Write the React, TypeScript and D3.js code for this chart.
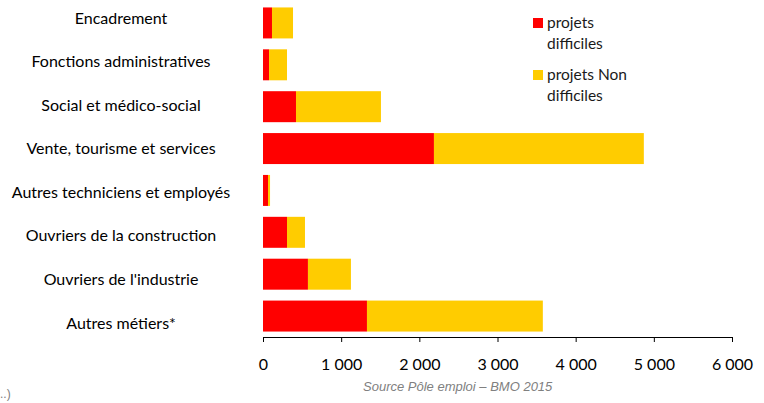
import { useEffect, useRef } from "react";
import * as d3 from "d3";

const WIDTH = 764;
const HEIGHT = 403;
const MARGIN = { top: 2, right: 32, bottom: 66, left: 263 };

const categories = [
    "Encadrement",
    "Fonctions administratives",
    "Social et médico-social",
    "Vente, tourisme et services",
    "Autres techniciens et employés",
    "Ouvriers de la construction",
    "Ouvriers de l'industrie",
    "Autres métiers*",
];
const difficiles = [115, 77, 422, 2187, 64, 307, 575, 1330];
const nonDifficiles = [269, 230, 1087, 2685, 26, 230, 550, 2250];
const xTicks = [0, 1000, 2000, 3000, 4000, 5000, 6000];
const seriesNames = ["projets difficiles", "projets Non difficiles"];
const legendLines = [["projets", "difficiles"], ["projets Non", "difficiles"]];

const COLORS = ["#ff0000", "#ffcc00"];
const LABEL_FONT = "Lato, 'Open Sans', sans-serif";

export default function App() {
    const svgRef = useRef<SVGSVGElement | null>(null);

    useEffect(() => {
        const svg = d3.select(svgRef.current);
        svg.selectAll("*").remove();

        const boundsWidth = WIDTH - MARGIN.left - MARGIN.right;
        const boundsHeight = HEIGHT - MARGIN.top - MARGIN.bottom;

        const xScale = d3.scaleLinear().domain([0, 6000]).range([0, boundsWidth]);
        const yScale = d3
            .scaleBand<string>()
            .domain(categories)
            .range([0, boundsHeight])
            .paddingInner(0.26)
            .paddingOuter(0.13);
        // the category labels sit on their own, slightly wider grid
        const labelScale = d3.scalePoint<string>().domain(categories).range([18, 323]);

        const rows = categories.map((name, i) => ({
            name,
            difficiles: difficiles[i],
            nonDifficiles: nonDifficiles[i],
        }));
        const stacked = d3.stack<any>().keys(["difficiles", "nonDifficiles"])(rows);

        const g = svg
            .append("g")
            .attr("transform", `translate(${MARGIN.left},${MARGIN.top})`);

        g.selectAll("g.series")
            .data(stacked)
            .join("g")
            .attr("class", "series")
            .attr("fill", (_, i) => COLORS[i])
            .selectAll("rect")
            .data((d) => d)
            .join("rect")
            .attr("x", (d) => xScale(d[0]))
            .attr("width", (d) => xScale(d[1]) - xScale(d[0]))
            .attr("y", (d) => yScale(d.data.name) as number)
            .attr("height", yScale.bandwidth());

        // x axis
        const xAxis = g
            .append("g")
            .attr("transform", `translate(0,${boundsHeight})`)
            .call(
                d3
                    .axisBottom(xScale)
                    .tickValues(xTicks)
                    .tickSize(5)
                    .tickFormat((d) => d3.format(",")(d as number).replace(/,/g, " "))
            );
        xAxis.select(".domain").attr("stroke", "#000").attr("stroke-width", 1);
        xAxis.selectAll(".tick line").attr("stroke", "#000");
        xAxis
            .selectAll(".tick text")
            .attr("dy", 0)
            .attr("y", 33)
            .attr("font-family", LABEL_FONT)
            .attr("font-size", 16)
            .attr("fill", "#000");

        // category labels, centred in the left area
        svg.append("g")
            .selectAll("text")
            .data(categories)
            .join("text")
            .attr("x", 121)
            .attr("y", (d) => labelScale(d) as number)
            .attr("dy", "0.35em")
            .attr("text-anchor", "middle")
            .attr("font-family", LABEL_FONT)
            .attr("font-size", 16)
            .attr("fill", "#000")
            .text((d) => d);

        // legend
        const legend = svg.append("g").attr("transform", "translate(533,18)");
        seriesNames.forEach((name, i) => {
            const item = legend.append("g").attr("transform", `translate(0,${i * 52})`);
            item.append("rect").attr("width", 10).attr("height", 10).attr("fill", COLORS[i]);
            item.append("text")
                .attr("x", 14)
                .attr("y", 10)
                .attr("font-family", LABEL_FONT)
                .attr("font-size", 15.5)
                .attr("fill", "#1a1a1a")
                .selectAll("tspan")
                .data(legendLines[i])
                .join("tspan")
                .attr("x", 14)
                .attr("dy", (_, j) => (j === 0 ? 0 : 21))
                .text((d) => d);
        });

        svg.append("text")
            .attr("x", 363)
            .attr("y", 391)
            .attr("font-family", "'Liberation Sans', Arial, sans-serif")
            .attr("font-style", "italic")
            .attr("font-size", 13)
            .attr("fill", "#808080")
            .text("Source Pôle emploi – BMO 2015");

        svg.append("text")
            .attr("x", 0)
            .attr("y", 398)
            .attr("font-family", "'Liberation Sans', Arial, sans-serif")
            .attr("font-size", 12)
            .attr("fill", "#808080")
            .text("..)");
    }, []);

    return (
        <div style={{ position: "absolute", left: 0, top: 0 }}>
            <svg ref={svgRef} width={WIDTH} height={HEIGHT} style={{ display: "block", background: "#fff" }} />
        </div>
    );
}
